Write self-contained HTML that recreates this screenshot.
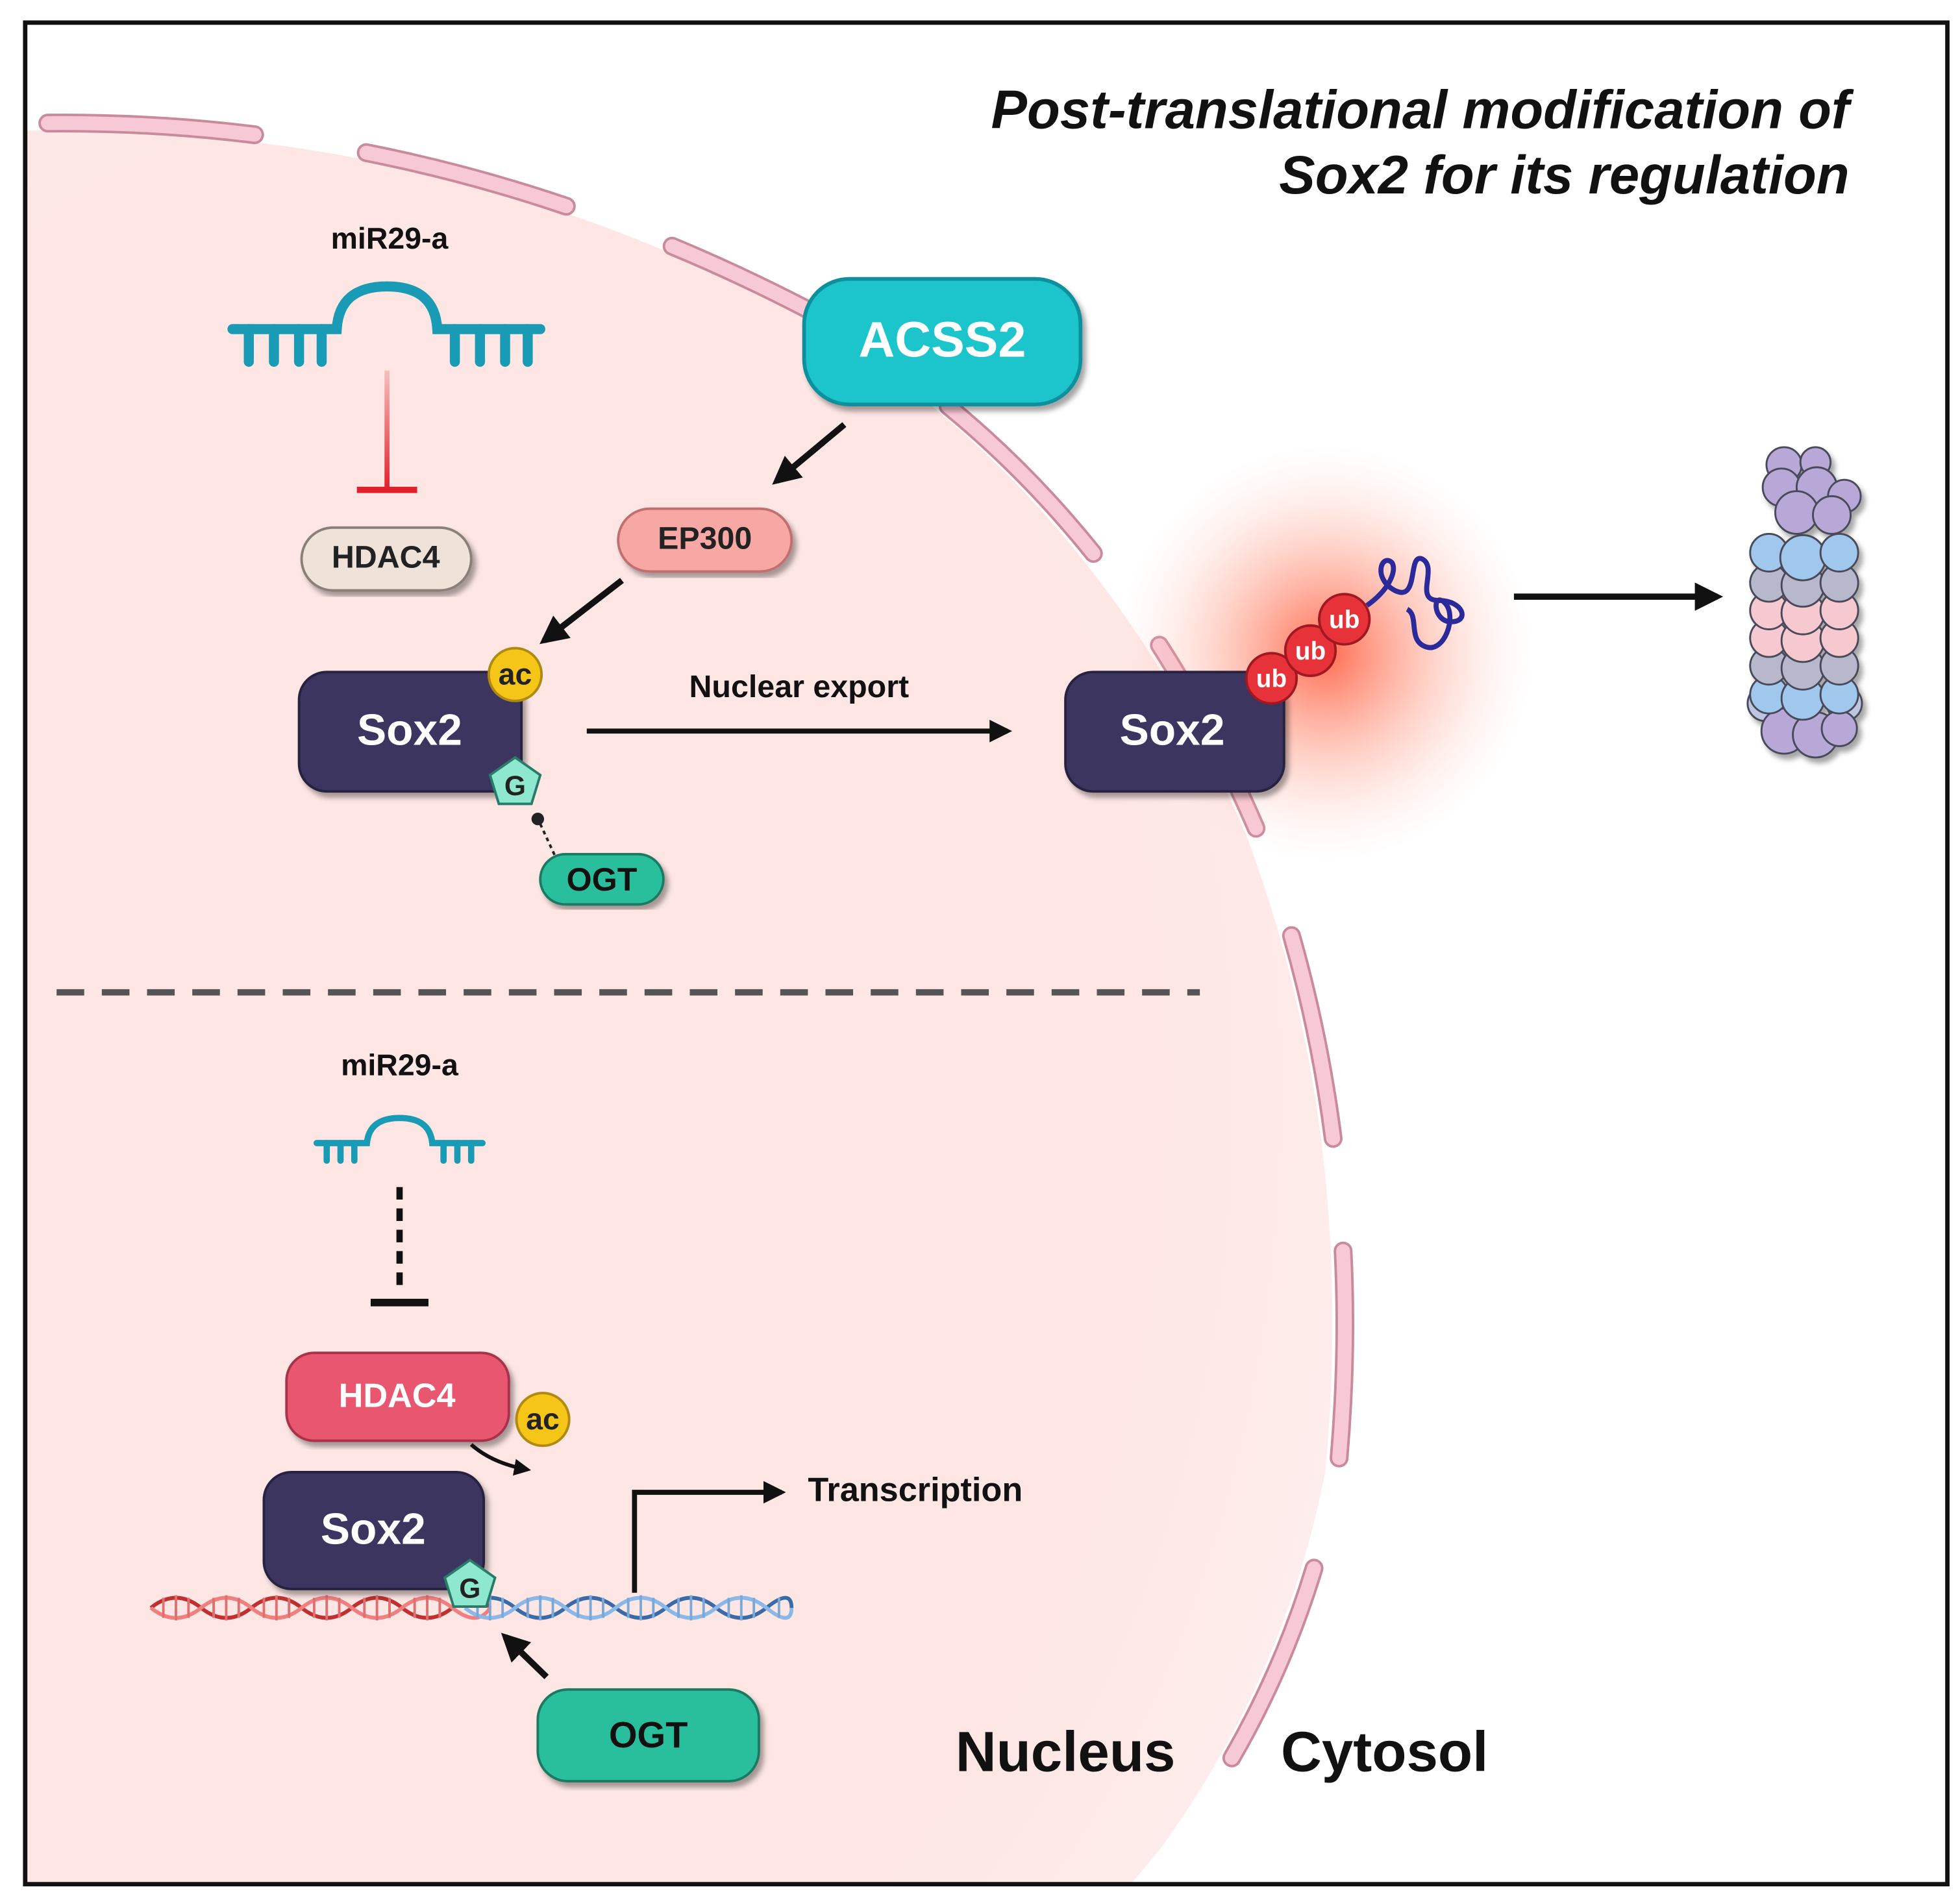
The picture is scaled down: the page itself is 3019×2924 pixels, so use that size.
<!DOCTYPE html>
<html><head><meta charset="utf-8">
<style>html,body{margin:0;padding:0;background:#fff;width:3019px;height:2924px;overflow:hidden}svg{display:block}
text{font-family:"Liberation Sans",Arial,sans-serif;font-weight:bold}</style></head>
<body>
<svg width="3019" height="2924" viewBox="0 0 1560 1511" xmlns="http://www.w3.org/2000/svg">
<defs>
<radialGradient id="nuc" cx="0.3" cy="0.55" r="0.8">
<stop offset="0.7" stop-color="#fde6e4"/><stop offset="1" stop-color="#fdf0ef"/></radialGradient>
<radialGradient id="glow" cx="0.5" cy="0.5" r="0.5">
<stop offset="0" stop-color="#ff5a3c" stop-opacity="0.9"/><stop offset="0.5" stop-color="#ff8a70" stop-opacity="0.4"/><stop offset="1" stop-color="#ffd0c8" stop-opacity="0"/></radialGradient>
<linearGradient id="red" gradientUnits="userSpaceOnUse" x1="0" y1="295" x2="0" y2="390"><stop offset="0" stop-color="#e0202a" stop-opacity="0.2"/><stop offset="1" stop-color="#e0202a"/></linearGradient>
<marker id="ah" viewBox="0 0 10 10" refX="8" refY="5" markerWidth="4.5" markerHeight="4.5" orient="auto"><path d="M0,0L10,5L0,10z" fill="#111"/></marker>
<filter id="sh"><feDropShadow dx="3" dy="4" stdDeviation="2" flood-opacity="0.35"/></filter>
</defs>
<rect x="0" y="0" width="1560" height="1511" fill="#fff"/>
<!-- nucleus -->
<path d="M20,104 Q350,98 635,250 Q870,385 992,665 Q1080,900 1055,1170 Q1025,1330 925,1470 L900,1500 L20,1500 Z" fill="url(#nuc)"/>
<path d="M38,98 Q350,95 640,245 Q880,380 1000,660 Q1090,900 1065,1170 Q1035,1330 940,1462" fill="none" stroke="#c98a9c" stroke-width="15" stroke-dasharray="165 90" stroke-linecap="round"/>
<path d="M38,98 Q350,95 640,245 Q880,380 1000,660 Q1090,900 1065,1170 Q1035,1330 940,1462" fill="none" stroke="#f7c9d6" stroke-width="11" stroke-dasharray="165 90" stroke-linecap="round"/>
<rect x="20" y="18" width="1530" height="1482" fill="none" stroke="#111" stroke-width="3.5"/>
<!-- title -->
<text x="1472" y="102" font-size="43" font-style="italic" text-anchor="end" fill="#111">Post-translational modification of</text>
<text x="1472" y="154" font-size="43" font-style="italic" text-anchor="end" fill="#111">Sox2 for its regulation</text>
<!-- top miRNA -->
<text x="310" y="198" font-size="24" text-anchor="middle" fill="#111">miR29-a</text>
<g stroke="#1a9bb5" stroke-width="8" fill="none" stroke-linecap="round">
<path d="M185,262H268Q270,228 308,228Q346,228 348,262H430"/>
<path d="M198,262v26M218,262v26M238,262v26M256,262v26M362,262v26M382,262v26M402,262v26M420,262v26"/>
</g>
<rect x="306" y="295" width="4" height="95" fill="url(#red)"/>
<line x1="284" y1="390" x2="332" y2="390" stroke="#e0202a" stroke-width="5"/>
<rect x="240" y="420" width="135" height="50" rx="25" fill="#efe3d9" stroke="#8a8078" stroke-width="2" filter="url(#sh)"/>
<text x="307" y="452" font-size="25" text-anchor="middle" fill="#222">HDAC4</text>
<!-- ACSS2 -->
<rect x="640" y="222" width="220" height="100" rx="36" fill="#1fc4cc" stroke="#11909e" stroke-width="3" filter="url(#sh)"/>
<text x="750" y="284" font-size="40" text-anchor="middle" fill="#fff">ACSS2</text>
<line x1="672" y1="338" x2="618" y2="383" stroke="#111" stroke-width="5" marker-end="url(#ah)"/>
<rect x="492" y="405" width="138" height="50" rx="25" fill="#f7a8a4" stroke="#c07070" stroke-width="2" filter="url(#sh)"/>
<text x="561" y="437" font-size="25" text-anchor="middle" fill="#222">EP300</text>
<line x1="495" y1="462" x2="433" y2="510" stroke="#111" stroke-width="5" marker-end="url(#ah)"/>
<!-- Sox2 left -->
<rect x="238" y="535" width="177" height="95" rx="22" fill="#3a3560" stroke="#26223f" stroke-width="2" filter="url(#sh)"/>
<text x="326" y="593" font-size="35" text-anchor="middle" fill="#fff">Sox2</text>
<circle cx="410" cy="537" r="21" fill="#f5c518" stroke="#b08a10" stroke-width="2"/>
<text x="410" y="545" font-size="24" text-anchor="middle" fill="#222">ac</text>
<polygon points="410,603 430,617 423,640 397,640 390,617" fill="#8ee8cf" stroke="#2a7a6a" stroke-width="2"/>
<text x="410" y="633" font-size="22" text-anchor="middle" fill="#222">G</text>
<circle cx="428" cy="652" r="5" fill="#222"/>
<line x1="430" y1="656" x2="442" y2="682" stroke="#222" stroke-width="2" stroke-dasharray="3 3"/>
<rect x="430" y="680" width="98" height="40" rx="20" fill="#2bbf9c" stroke="#1a7a64" stroke-width="2" filter="url(#sh)"/>
<text x="479" y="709" font-size="26" text-anchor="middle" fill="#111">OGT</text>
<!-- export -->
<text x="636" y="555" font-size="25" text-anchor="middle" fill="#111">Nuclear export</text>
<line x1="467" y1="582" x2="802" y2="582" stroke="#111" stroke-width="4" marker-end="url(#ah)"/>
<!-- glow and right sox2 -->
<circle cx="1055" cy="520" r="165" fill="url(#glow)"/>
<rect x="848" y="535" width="174" height="95" rx="22" fill="#3a3560" stroke="#26223f" stroke-width="2" filter="url(#sh)"/>
<text x="933" y="593" font-size="35" text-anchor="middle" fill="#fff">Sox2</text>
<g stroke="#a01820" stroke-width="2" fill="#e8323a">
<circle cx="1012" cy="540" r="20"/><circle cx="1043" cy="518" r="20"/><circle cx="1070" cy="493" r="20"/></g>
<g font-size="20" fill="#fff" text-anchor="middle"><text x="1012" y="547">ub</text><text x="1043" y="525">ub</text><text x="1070" y="500">ub</text></g>
<path d="M1088,482C1105,470 1112,455 1108,448C1100,440 1092,460 1110,470C1130,480 1120,440 1132,445C1145,452 1125,478 1145,478C1165,478 1170,495 1155,495C1140,495 1140,470 1150,480C1160,490 1150,520 1135,515C1120,510 1130,490 1120,485" fill="none" stroke="#2a2a9a" stroke-width="4"/>
<line x1="1205" y1="475" x2="1367" y2="475" stroke="#111" stroke-width="5" marker-end="url(#ah)"/>
<!-- proteasome -->
<g stroke="#4a4a5a" stroke-width="1.5" filter="url(#sh)">
<g fill="#bcc6e0"><circle cx="1405" cy="560" r="14"/><circle cx="1468" cy="560" r="14"/></g>
<g fill="#b8a8d8"><circle cx="1420" cy="582" r="18"/><circle cx="1445" cy="585" r="18"/><circle cx="1464" cy="580" r="14"/></g>
<g fill="#9fc8ec"><circle cx="1408" cy="553" r="15"/><circle cx="1435" cy="556" r="17"/><circle cx="1464" cy="553" r="15"/></g>
<g fill="#b8b8cc"><circle cx="1408" cy="530" r="15"/><circle cx="1435" cy="532" r="17"/><circle cx="1464" cy="530" r="15"/></g>
<g fill="#f6c8d0"><circle cx="1408" cy="508" r="15"/><circle cx="1435" cy="510" r="17"/><circle cx="1464" cy="508" r="15"/></g>
<g fill="#f6c8d0"><circle cx="1408" cy="486" r="15"/><circle cx="1435" cy="488" r="17"/><circle cx="1464" cy="486" r="15"/></g>
<g fill="#b8b8cc"><circle cx="1408" cy="464" r="15"/><circle cx="1435" cy="466" r="17"/><circle cx="1464" cy="464" r="15"/></g>
<g fill="#9fc8ec"><circle cx="1408" cy="440" r="15"/><circle cx="1435" cy="444" r="18"/><circle cx="1464" cy="440" r="15"/></g>
<g fill="#b8a8d8"><circle cx="1420" cy="370" r="14"/><circle cx="1445" cy="368" r="12"/><circle cx="1418" cy="388" r="15"/><circle cx="1446" cy="388" r="16"/><circle cx="1468" cy="395" r="13"/><circle cx="1430" cy="408" r="17"/><circle cx="1458" cy="410" r="15"/></g>
</g>
<!-- dashed divider -->
<line x1="45" y1="790" x2="955" y2="790" stroke="#555" stroke-width="5" stroke-dasharray="22 14"/>
<!-- bottom -->
<text x="318" y="856" font-size="24" text-anchor="middle" fill="#111">miR29-a</text>
<g stroke="#1a9bb5" stroke-width="5" fill="none" stroke-linecap="round">
<path d="M252,910H292Q294,890 318,890Q342,890 344,910H384"/>
<path d="M260,910v14M271,910v14M282,910v14M353,910v14M364,910v14M375,910v14"/>
</g>
<line x1="318" y1="945" x2="318" y2="1030" stroke="#111" stroke-width="5" stroke-dasharray="10 7"/>
<line x1="295" y1="1037" x2="341" y2="1037" stroke="#111" stroke-width="6"/>
<rect x="228" y="1077" width="177" height="70" rx="22" fill="#e8566f" stroke="#a83048" stroke-width="2" filter="url(#sh)"/>
<text x="316" y="1120" font-size="27" text-anchor="middle" fill="#fff">HDAC4</text>
<circle cx="432" cy="1130" r="21" fill="#f5c518" stroke="#b08a10" stroke-width="2"/>
<text x="432" y="1138" font-size="24" text-anchor="middle" fill="#222">ac</text>
<path d="M375,1150Q392,1165 420,1170" fill="none" stroke="#111" stroke-width="3" marker-end="url(#ah)"/>
<!-- DNA -->
<g fill="none" stroke-width="3">
<path d="M120,1280 q20,-16 40,0 t40,0 t40,0 t40,0 t40,0 t40,0 t30,0" stroke="#c03030"/>
<path d="M120,1280 q20,16 40,0 t40,0 t40,0 t40,0 t40,0 t40,0 t30,0" stroke="#f08080"/>
<path d="M370,1280 q20,-16 40,0 t40,0 t40,0 t40,0 t40,0 t40,0 t20,0" stroke="#3a6aa8"/>
<path d="M370,1280 q20,16 40,0 t40,0 t40,0 t40,0 t40,0 t40,0 t20,0" stroke="#8ab8e8"/>
<path d="M130,1272v16M140,1270v20M150,1272v16M170,1272v16M180,1270v20M190,1272v16M210,1272v16M220,1270v20M230,1272v16M250,1272v16M260,1270v20M270,1272v16M290,1272v16M300,1270v20M310,1272v16M330,1272v16M340,1270v20M350,1272v16" stroke="#e07070" stroke-width="2"/>
<path d="M380,1272v16M390,1270v20M400,1272v16M420,1272v16M430,1270v20M440,1272v16M460,1272v16M470,1270v20M480,1272v16M500,1272v16M510,1270v20M520,1272v16M540,1272v16M550,1270v20M560,1272v16M580,1272v16M590,1270v20M600,1272v16M620,1272v16" stroke="#7aa8d8" stroke-width="2"/>
</g>
<rect x="210" y="1172" width="175" height="93" rx="22" fill="#3a3560" stroke="#26223f" stroke-width="2" filter="url(#sh)"/>
<text x="297" y="1229" font-size="35" text-anchor="middle" fill="#fff">Sox2</text>
<polygon points="374,1242 394,1256 387,1279 361,1279 354,1256" fill="#8ee8cf" stroke="#2a7a6a" stroke-width="2"/>
<text x="374" y="1272" font-size="22" text-anchor="middle" fill="#222">G</text>
<path d="M505,1268V1188H622" fill="none" stroke="#111" stroke-width="4" marker-end="url(#ah)"/>
<text x="643" y="1195" font-size="27" fill="#111">Transcription</text>
<line x1="435" y1="1335" x2="402" y2="1303" stroke="#111" stroke-width="5" marker-end="url(#ah)"/>
<rect x="428" y="1345" width="176" height="73" rx="24" fill="#2bbf9c" stroke="#1a7a64" stroke-width="2" filter="url(#sh)"/>
<text x="516" y="1391" font-size="29" text-anchor="middle" fill="#111">OGT</text>
<text x="848" y="1410" font-size="45" text-anchor="middle" fill="#111">Nucleus</text>
<text x="1102" y="1410" font-size="45" text-anchor="middle" fill="#111">Cytosol</text>
</svg>
</body></html>
